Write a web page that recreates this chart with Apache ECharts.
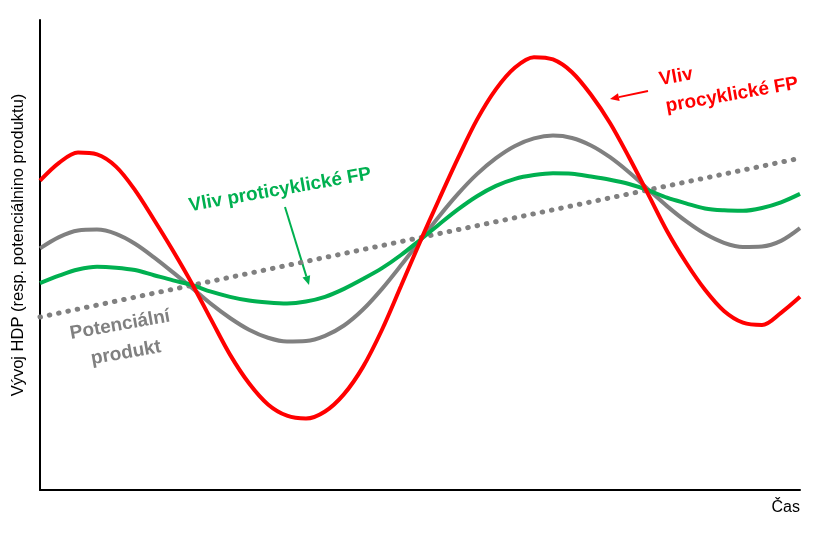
<!DOCTYPE html>
<html>
<head>
<meta charset="utf-8">
<script src="https://cdn.jsdelivr.net/npm/echarts@6/dist/echarts.min.js"></script>
<style>
  html, body { margin: 0; padding: 0; background: #fff; }
  #chart { width: 826px; height: 534px; }
</style>
</head>
<body>
<div id="chart"></div>
<script>
// time axis 0-100, read every 2.5 units; output level 0-100
const timeX = [0, 2.5, 5, 7.5, 10, 12.5, 15, 17.5, 20, 22.5, 25, 27.5, 30, 32.5, 35, 37.5, 40, 42.5, 45, 47.5, 50, 52.5, 55, 57.5, 60, 62.5, 65, 67.5, 70, 72.5, 75, 77.5, 80, 82.5, 85, 87.5, 90, 92.5, 95, 97.5, 100];

const procyclical = [65.8, 69.6, 71.8, 71.4, 68.8, 63.8, 57.5, 50.9, 43.9, 36.3, 28.8, 22.7, 18.2, 15.8, 15.2, 16.7, 20.4, 26.2, 34.1, 43.4, 52.8, 61.8, 70.6, 78.8, 85.3, 89.9, 92.1, 91.6, 88.9, 84.1, 78.1, 70.8, 63.0, 55.1, 48.4, 42.6, 38.1, 35.6, 35.1, 37.7, 41.1];

const neutral = [51.4, 53.8, 55.2, 55.4, 54.5, 52.4, 49.5, 46.3, 43.0, 39.6, 36.6, 34.1, 32.4, 31.6, 31.7, 32.8, 35.0, 38.4, 42.8, 47.8, 53.0, 58.2, 63.0, 67.2, 70.6, 73.2, 74.8, 75.4, 74.9, 73.3, 70.8, 67.6, 64.0, 60.4, 57.2, 54.5, 52.6, 51.7, 51.8, 53.0, 55.7];

const anticyclical = [44.0, 45.6, 46.9, 47.5, 47.3, 46.8, 45.7, 44.6, 43.6, 42.2, 41.1, 40.3, 39.9, 39.7, 40.1, 41.1, 42.8, 44.9, 47.2, 50.0, 53.2, 56.5, 59.7, 62.5, 64.7, 66.2, 67.0, 67.4, 67.3, 66.7, 66.0, 65.1, 63.8, 62.2, 61.0, 59.9, 59.5, 59.4, 60.0, 61.2, 63.0];

const trendX = [0, 100];
const potential = [36.8, 70.6];

function pairs(xs, ys) {
  return xs.map((x, i) => [x, ys[i]]);
}

// arrow: line plus a small triangle head at (x2, y2)
function arrow(x1, y1, x2, y2, color) {
  const a = Math.atan2(y2 - y1, x2 - x1);
  const len = 9, w = 4;
  const bx = x2 - len * Math.cos(a), by = y2 - len * Math.sin(a);
  return {
    type: 'group',
    children: [
      { type: 'line', shape: { x1: x1, y1: y1, x2: bx, y2: by }, style: { stroke: color, lineWidth: 2 } },
      { type: 'polygon', shape: { points: [
          [x2, y2],
          [bx + w * Math.sin(a), by - w * Math.cos(a)],
          [bx - w * Math.sin(a), by + w * Math.cos(a)]
        ] }, style: { fill: color } }
    ]
  };
}

function label(text, x, y, color, deg) {
  return {
    type: 'text', x: x, y: y, rotation: deg * Math.PI / 180,
    style: {
      text: text, fill: color, align: 'center', verticalAlign: 'middle',
      font: 'bold 19px "Liberation Sans", Arial, sans-serif'
    }
  };
}

const myChart = echarts.init(document.getElementById('chart'));

const option = {
  animation: false,
  backgroundColor: '#fff',
  grid: { left: 40, right: 26, top: 20, bottom: 44 },
  xAxis: {
    type: 'value', min: 0, max: 100,
    axisLine: { lineStyle: { color: '#000', width: 2 } },
    axisTick: { show: false }, axisLabel: { show: false }, splitLine: { show: false }
  },
  yAxis: {
    type: 'value', min: 0, max: 100,
    axisLine: { show: true, lineStyle: { color: '#000', width: 2 } },
    axisTick: { show: false }, axisLabel: { show: false }, splitLine: { show: false }
  },
  series: [
    {
      type: 'line', data: pairs(trendX, potential), symbol: 'none',
      lineStyle: { color: '#808080', width: 5, type: [0.5, 9], cap: 'round' }
    },
    {
      type: 'line', data: pairs(timeX, neutral), symbol: 'none', smooth: 0.33,
      lineStyle: { color: '#808080', width: 4 }
    },
    {
      type: 'line', data: pairs(timeX, anticyclical), symbol: 'none', smooth: 0.33,
      lineStyle: { color: '#00B050', width: 4 }
    },
    {
      type: 'line', data: pairs(timeX, procyclical), symbol: 'none', smooth: 0.33,
      lineStyle: { color: '#FF0000', width: 4 }
    }
  ],
  graphic: [
    {
      type: 'text', x: 18, y: 245, rotation: Math.PI / 2,
      style: {
        text: 'Vývoj HDP (resp. potenciálnino produktu)', fill: '#000',
        align: 'center', verticalAlign: 'middle',
        font: '16.5px "Liberation Sans", Arial, sans-serif'
      }
    },
    {
      type: 'text', x: 800, y: 508,
      style: {
        text: 'Čas', fill: '#000', align: 'right', verticalAlign: 'middle',
        font: '16px "Liberation Sans", Arial, sans-serif'
      }
    },
    label('Vliv proticyklické FP', 280, 190, '#00B050', 10),
    label('Potenciální', 120, 325, '#808080', 10),
    label('produkt', 126, 353, '#808080', 10),
    label('Vliv', 676, 77, '#FF0000', 10),
    label('procyklické FP', 732, 95, '#FF0000', 10),
    arrow(285, 207, 309, 285, '#00B050'),
    arrow(648, 91, 610, 99, '#FF0000')
  ]
};

myChart.setOption(option);
</script>
</body>
</html>
